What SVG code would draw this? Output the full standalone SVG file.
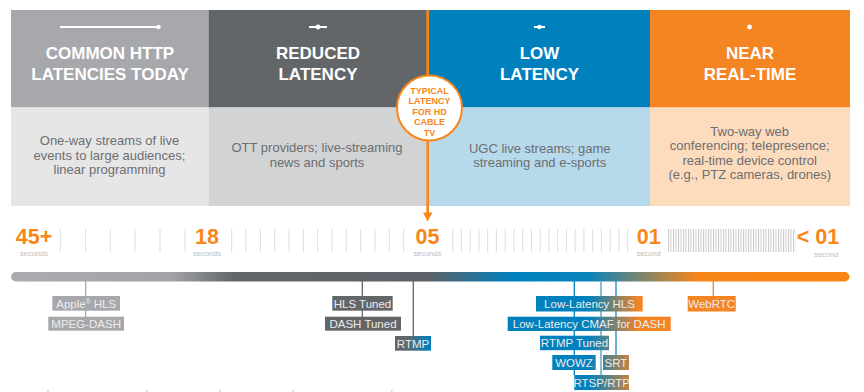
<svg xmlns="http://www.w3.org/2000/svg" width="864" height="392" viewBox="0 0 864 392">
<defs>
<style>
.hd{font-family:"Liberation Sans",Arial,sans-serif;font-weight:bold;font-size:17px;fill:#fff;text-anchor:middle}
.ds{font-family:"Liberation Sans",Arial,sans-serif;font-size:13px;fill:#6D6E71;text-anchor:middle}
.num{font-family:"Liberation Sans",Arial,sans-serif;font-weight:bold;font-size:21.5px;fill:#F7861B;text-anchor:middle}
.sec{font-family:"Liberation Sans",Arial,sans-serif;font-size:7.5px;fill:#BCBEC0;text-anchor:middle}
.lb{font-family:"Liberation Sans",Arial,sans-serif;font-size:11.5px;fill:#ECECEC;text-anchor:middle}
.ct{font-family:"Liberation Sans",Arial,sans-serif;font-weight:bold;font-size:9px;fill:#F7861B;text-anchor:middle}
.tk{stroke:#DCDCDC;stroke-width:1;fill:none}
.ic{stroke:#fff;stroke-width:2;fill:none}
.cn{fill:none;stroke-width:1.3}
.cn.thick{stroke-width:2.6}
.cn.mid{stroke-width:2}
</style>
<linearGradient id="bar" gradientUnits="userSpaceOnUse" x1="11" y1="0" x2="849" y2="0">
<stop offset="0" stop-color="#AAABAE"/>
<stop offset="0.19" stop-color="#A3A4A7"/>
<stop offset="0.265" stop-color="#63676A"/>
<stop offset="0.5" stop-color="#5C6268"/>
<stop offset="0.6" stop-color="#0081BE"/>
<stop offset="0.69" stop-color="#0A84BA"/>
<stop offset="0.82" stop-color="#F7861B"/>
<stop offset="1" stop-color="#FA8612"/>
</linearGradient>
<linearGradient id="lab" gradientUnits="userSpaceOnUse" x1="11" y1="0" x2="849" y2="0">
<stop offset="0" stop-color="#A7A8AC"/>
<stop offset="0.15" stop-color="#A7A8AC"/>
<stop offset="0.22" stop-color="#636669"/>
<stop offset="0.47" stop-color="#636669"/>
<stop offset="0.5" stop-color="#0081BE"/>
<stop offset="0.69" stop-color="#0081BE"/>
<stop offset="0.75" stop-color="#F58423"/>
<stop offset="1" stop-color="#F58423"/>
</linearGradient>
<pattern id="dense" patternUnits="userSpaceOnUse" x="668" y="0" width="2.5" height="30">
<line x1="0.5" y1="0" x2="0.5" y2="30" stroke="#C4C4C4" stroke-width="0.9"/>
</pattern>
</defs>
<rect width="864" height="392" fill="#fff"/>

<g id="col-common">
<rect x="11" y="10" width="197.5" height="97.5" fill="#A7A8AC"/>
<rect x="11" y="107.5" width="197.5" height="98.5" fill="#E6E6E7"/>
<line class="ic" x1="60" y1="27" x2="158" y2="27"/><circle cx="158.5" cy="27" r="2.2" fill="#fff"/>
<text class="hd" x="110" y="59">COMMON HTTP</text>
<text class="hd" x="110" y="80">LATENCIES TODAY</text>
<text class="ds" x="109.5" y="145">One-way streams of live</text>
<text class="ds" x="109.5" y="159.5">events to large audiences;</text>
<text class="ds" x="109.5" y="174">linear programming</text>
</g>

<g id="col-reduced">
<rect x="208.5" y="10" width="220" height="97.5" fill="#636669"/>
<rect x="208.5" y="107.5" width="220" height="98.5" fill="#D2D3D5"/>
<line class="ic" x1="309" y1="27" x2="327" y2="27"/><circle cx="318" cy="27" r="2.4" fill="#fff"/>
<text class="hd" x="318" y="59">REDUCED</text>
<text class="hd" x="318" y="80">LATENCY</text>
<text class="ds" x="317" y="152">OTT providers; live-streaming</text>
<text class="ds" x="317" y="166.5">news and sports</text>
</g>

<g id="col-low">
<rect x="428.5" y="10" width="221.5" height="97.5" fill="#0081BE"/>
<rect x="428.5" y="107.5" width="221.5" height="98.5" fill="#B6D9EC"/>
<line class="ic" x1="534" y1="27" x2="545" y2="27"/><circle cx="539.5" cy="27" r="2.2" fill="#fff"/>
<text class="hd" x="539.5" y="59">LOW</text>
<text class="hd" x="539.5" y="80">LATENCY</text>
<text class="ds" x="539.7" y="152.5">UGC live streams; game</text>
<text class="ds" x="539.7" y="167">streaming and e-sports</text>
</g>

<g id="col-near">
<rect x="650" y="10" width="200" height="97.5" fill="#F58423"/>
<rect x="650" y="107.5" width="200" height="98.5" fill="#FDDBBD"/>
<circle cx="749.5" cy="27" r="2.4" fill="#fff"/>
<text class="hd" x="750" y="59">NEAR</text>
<text class="hd" x="750" y="80">REAL-TIME</text>
<text class="ds" x="749.7" y="135.5">Two-way web</text>
<text class="ds" x="749.7" y="150">conferencing; telepresence;</text>
<text class="ds" x="749.7" y="164.5">real-time device control</text>
<text class="ds" x="749.7" y="179">(e.g., PTZ cameras, drones)</text>
</g>

<g id="timeline">
<path class="tk" d="M60.3 229V252M85.7 229V252M110.3 229V252M135 229V252M160 229V252M185 229V252"/>
<path class="tk" d="M231.7 229V252M246 229V252M260.4 229V252M274.7 229V252M289 229V252M303.4 229V252M317.7 229V252M332 229V252M346.3 229V252M360.7 229V252M375 229V252M389.3 229V252M403.7 229V252"/>
<path class="tk" d="M452.7 229V252M461.4 229V252M470.2 229V252M478.9 229V252M487.7 229V252M496.4 229V252M505.2 229V252M513.9 229V252M522.7 229V252M531.4 229V252M540.2 229V252M548.9 229V252M557.7 229V252M566.4 229V252M575.2 229V252M583.9 229V252M592.7 229V252M601.4 229V252M610.2 229V252M619 229V252M627.7 229V252"/>
<rect x="668" y="229" width="127.5" height="23" fill="url(#dense)"/>
<text class="num" x="34" y="244">45+</text><text class="sec" x="34" y="255.5">seconds</text>
<text class="num" x="207" y="244">18</text><text class="sec" x="207" y="255.5">seconds</text>
<text class="num" x="427.5" y="244">05</text><text class="sec" x="427.5" y="255.5">seconds</text>
<text class="num" x="648.7" y="244">01</text><text class="sec" x="648.5" y="255.5">second</text>
<text class="num" x="818" y="244">&lt; 01</text><text class="sec" x="826" y="256.5">second</text>
</g>

<g id="bar">
<rect x="11" y="272" width="838.5" height="9.5" rx="4.75" fill="url(#bar)"/>
</g>

<g id="connectors">
<path class="cn thick" stroke="#F7861B" d="M427.7 10V75M427.7 141V214"/>
<polygon points="423,212.5 432.4,212.5 427.7,221.5" fill="#F7861B"/>
<path class="cn" stroke="#A7A8AC" d="M85.7 281V317"/>
<path class="cn" stroke="#636669" d="M362.3 281V317"/>
<path class="cn" stroke="#636669" d="M413.3 281V336"/>
<path class="cn" stroke="#0081BE" d="M574.3 281V375"/>
<path class="cn mid" stroke="#84C0D8" d="M601 281V375"/>
<path class="cn" stroke="#1587C0" d="M616 281V355"/>
<path class="cn" stroke="#F58423" d="M713.3 281V296"/>
</g>

<g id="callout">
<circle cx="429.5" cy="108" r="32.5" fill="#fff" stroke="#F7861B" stroke-width="2"/>
<text class="ct" x="429.5" y="93.5">TYPICAL</text>
<text class="ct" x="429.5" y="104">LATENCY</text>
<text class="ct" x="429.5" y="114.5">FOR HD</text>
<text class="ct" x="429.5" y="125">CABLE</text>
<text class="ct" x="429.5" y="135.5">TV</text>
</g>

<g id="lbl-applehls"><rect x="52.3" y="296" width="67.7" height="14.7" fill="url(#lab)"/><text class="lb" x="86.2" y="307.8">Apple<tspan font-size="6.5" dy="-4">®</tspan><tspan dy="4"> HLS</tspan></text></g>
<g id="lbl-mpegdash"><rect x="48.3" y="316.7" width="75.7" height="14" fill="url(#lab)"/><text class="lb" x="86.2" y="327.8">MPEG-DASH</text></g>
<g id="lbl-hlstuned"><rect x="332.3" y="296" width="60.4" height="14.7" fill="url(#lab)"/><text class="lb" x="362.5" y="307.8">HLS Tuned</text></g>
<g id="lbl-dashtuned"><rect x="325" y="316.7" width="76" height="14" fill="url(#lab)"/><text class="lb" x="363" y="327.8">DASH Tuned</text></g>
<g id="lbl-rtmp"><rect x="395" y="336" width="36" height="14.7" fill="url(#lab)"/><text class="lb" x="413" y="347.5">RTMP</text></g>
<g id="lbl-llhls"><rect x="536" y="296" width="106.7" height="15.5" fill="url(#lab)"/><text class="lb" x="589.5" y="308">Low-Latency HLS</text></g>
<g id="lbl-cmaf"><rect x="507.7" y="316.7" width="163" height="14.3" fill="url(#lab)"/><text class="lb" x="589.2" y="327.8">Low-Latency CMAF for DASH</text></g>
<g id="lbl-rtmptuned"><rect x="540" y="335.7" width="69" height="14.5" fill="url(#lab)"/><text class="lb" x="574.5" y="347.3">RTMP Tuned</text></g>
<g id="lbl-wowz"><rect x="552.3" y="355" width="43.4" height="15" fill="url(#lab)"/><text class="lb" x="574" y="366.6">WOWZ</text></g>
<g id="lbl-srt"><rect x="603" y="355" width="26" height="15" fill="url(#lab)"/><text class="lb" x="616" y="366.6">SRT</text></g>
<g id="lbl-rtsp"><rect x="574.3" y="375" width="54.7" height="15" fill="url(#lab)"/><text class="lb" x="601.7" y="386.6">RTSP/RTP</text></g>
<g id="lbl-webrtc"><rect x="687.7" y="296" width="48" height="15.5" fill="url(#lab)"/><text class="lb" x="711.7" y="308">WebRTC</text></g>

<g id="bottom-marks" fill="#FAC79A">
<rect x="47" y="390" width="2" height="1.5"/>
<rect x="145.7" y="390" width="2" height="1.5"/>
<rect x="219" y="390" width="2" height="1.5"/>
<rect x="292" y="390" width="2" height="1.5"/>
<rect x="390.7" y="390" width="2" height="1.5"/>
</g>
</svg>
